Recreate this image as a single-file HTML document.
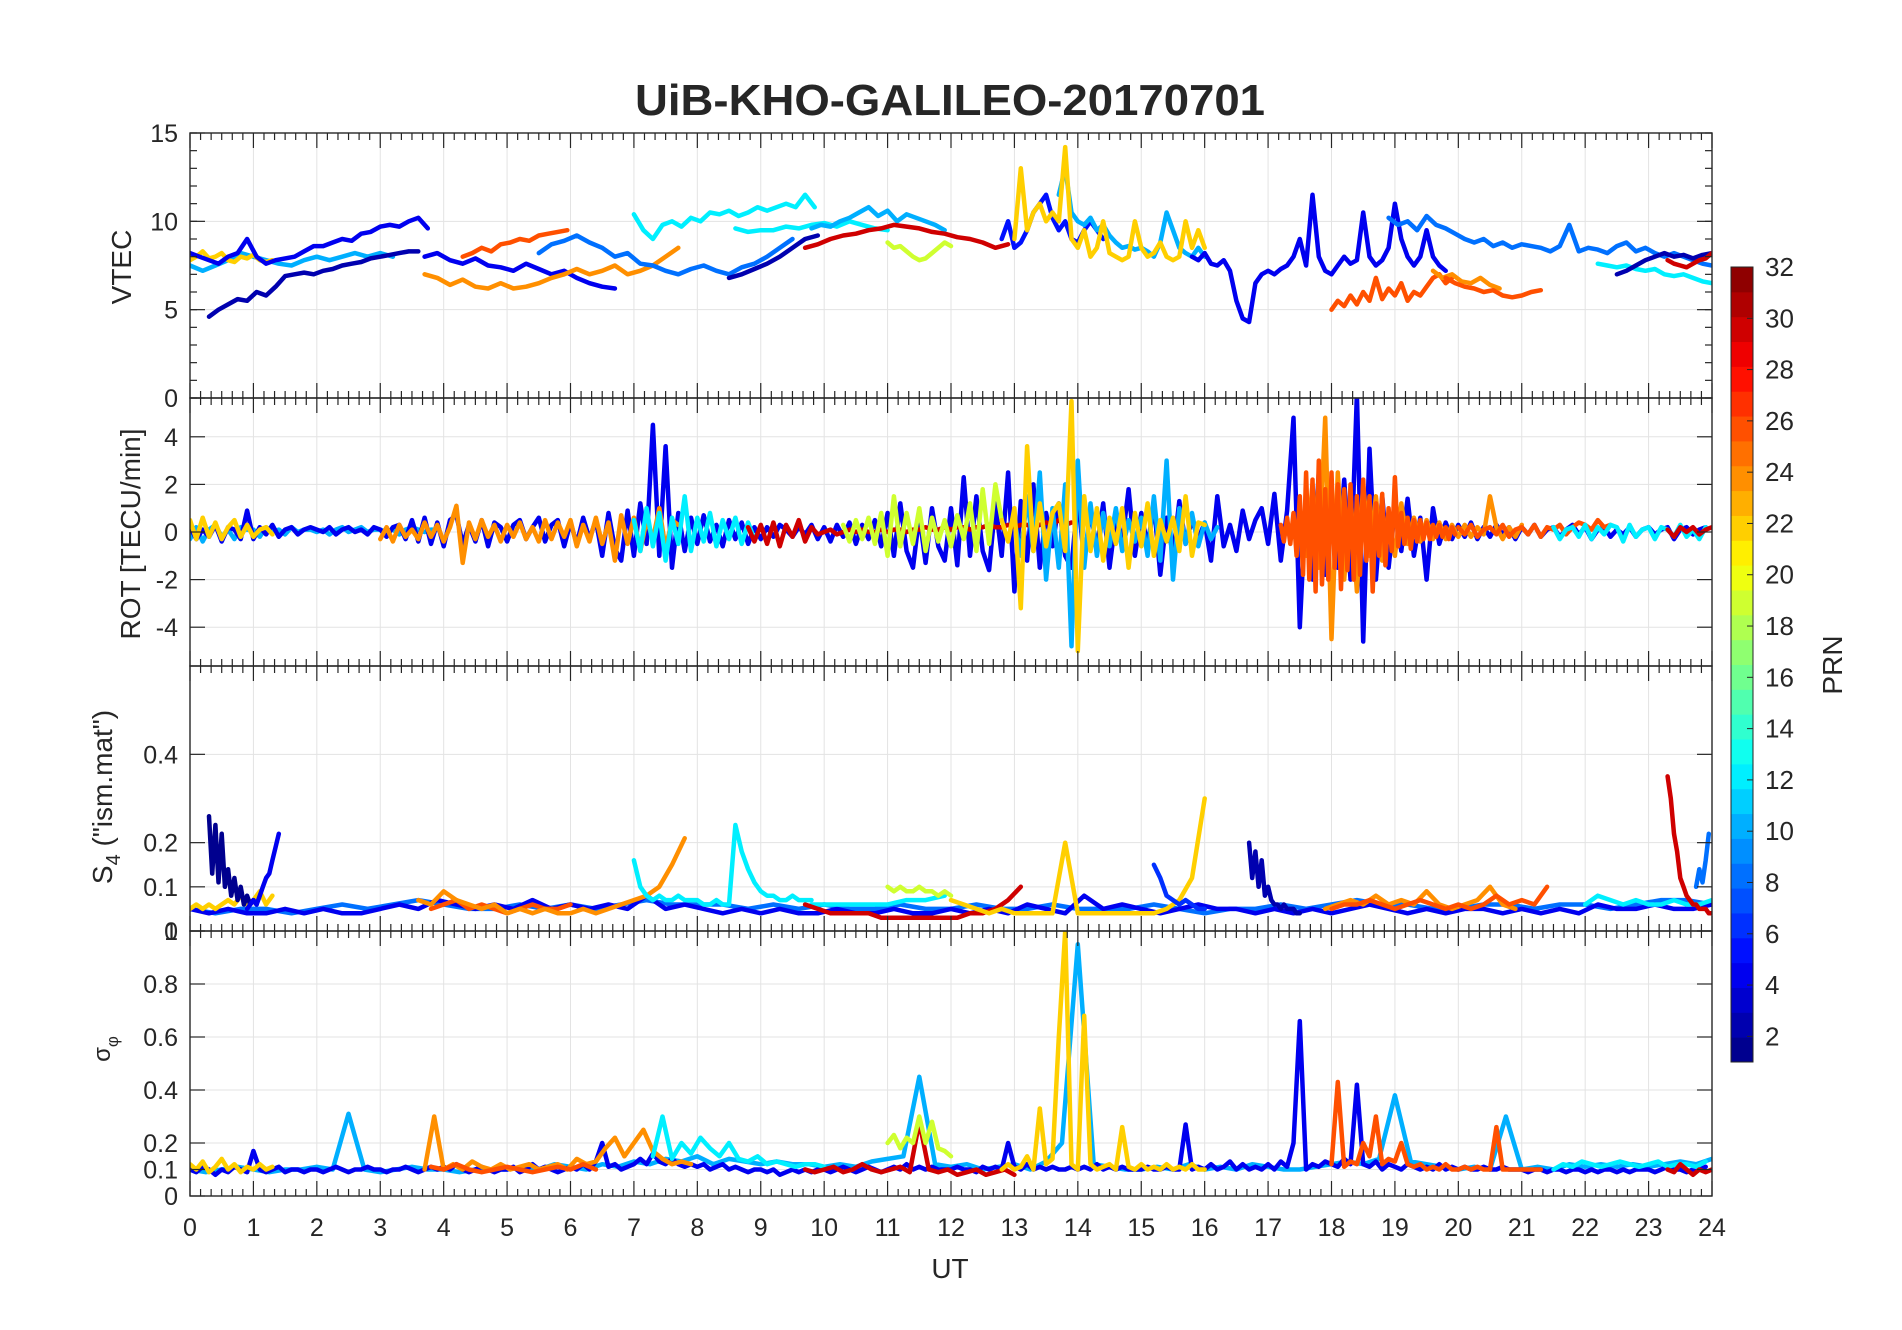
<!DOCTYPE html>
<html><head><meta charset="utf-8"><style>
html,body{margin:0;padding:0;background:#fff}
svg{display:block}
text{font-family:"Liberation Sans",Arial,sans-serif;fill:#262626}
</style></head><body>
<svg id="chart" width="1902" height="1330" viewBox="0 0 1902 1330" xmlns="http://www.w3.org/2000/svg">
<text x="950" y="115" text-anchor="middle" font-size="44" font-weight="bold" textLength="630" lengthAdjust="spacingAndGlyphs">UiB-KHO-GALILEO-20170701</text>
<g id="grids"></g><g id="series"></g><g id="axes"></g><g id="cbar"></g>
<text x="950" y="1278" text-anchor="middle" font-size="28">UT</text>
<text transform="translate(131,267) rotate(-90)" text-anchor="middle" font-size="28">VTEC</text>
<text transform="translate(140,534) rotate(-90)" text-anchor="middle" font-size="28">ROT [TECU/min]</text>
<text transform="translate(112,797) rotate(-90)" text-anchor="middle" font-size="28">S<tspan font-size="20" dy="8">4</tspan><tspan dy="-8"> ("ism.mat")</tspan></text>
<text transform="translate(110,1049) rotate(-90)" text-anchor="middle" font-size="24">σ<tspan font-size="17" dy="8">φ</tspan></text>
<text transform="translate(1842,665) rotate(-90)" text-anchor="middle" font-size="28">PRN</text>
</svg>
<script>
// ---------- data ----------
const hours = [0,1,2,3,4,5,6,7,8,9,10,11,12,13,14,15,16,17,18,19,20,21,22,23,24];
const vtecTicks = [0,5,10,15];
const rotTicks = [-4,-2,0,2,4];
const s4Ticks = [0,0.1,0.2,0.4];
const sigTicks = [0,0.1,0.2,0.4,0.6,0.8,1];
const prnTicks = [2,4,6,8,10,12,14,16,18,20,22,24,26,28,30,32];

// VTEC
const v_p2_a = [4.6,5.0,5.3,5.6,5.5,6.0,5.8,6.3,6.9,7.0,7.1,7.0,7.2,7.3,7.5,7.6,7.7,7.9,8.0,8.1,8.2,8.3,8.3];
const v_p2_b = [6.8,7.0,7.3,7.6,8.0,8.5,9.0,9.2];
const v_p2_c = [7.0,7.2,7.5,7.8,8.0,8.2,8.0,8.1,7.9,8.1,8.2];
const v_p4_a = [8.2,8.0,7.8,7.6,8.0,8.2,9.0,8.0,7.6,7.8,7.9,8.0,8.3,8.6,8.6,8.8,9.0,8.9,9.3,9.4,9.7,9.8,9.7,10.0,10.2,9.6];
const v_p4_b = [8.0,8.2,7.8,7.6,7.9,7.5,7.4,7.2,7.6,7.3,7.0,7.2,6.8,6.5,6.3,6.2];
const v_p4_c = [8.0,7.8,8.2,7.6,7.5,7.8,7.2,5.5,4.5,4.3,6.5,7.0,7.2,7.0,7.3,7.5,8.0,9.0,7.5,11.5,8.0,7.2,7.0,7.5,8.0,7.6,7.8,10.5,8.0,7.5,7.8,8.5,11.0,9.0,8.0,7.5,8.0,9.5,8.0,7.5,7.2];
const v_p5 = [9.0,10.0,8.5,8.8,9.5,10.5,11.0,11.5,10.2,9.5,10.0,9.0,8.8,9.5,10.0,9.5,9.0];
const v_p8_a = [8.2,8.7,8.9,9.2,8.8,8.5,8.0,8.2,7.6,7.5,7.2,7.0,7.3,7.5,7.2,7.0,7.4,7.6,8.0,8.5,9.0];
const v_p8_b = [10.2,9.8,10.0,9.5,10.3,9.8,9.6,9.3,9.0,8.8,9.0,8.6,8.8,8.5,8.7,8.6,8.5,8.3,8.6,9.8,8.3,8.5,8.4,8.2,8.6,8.8,8.3,8.5,8.2,8.0,8.2,8.0,7.8,7.6,7.5];
const v_p10_a = [7.5,7.2,7.5,7.8,8.2,8.0,7.8,7.6,7.5,7.8,8.0,7.8,8.0,8.2,8.0,8.2,8.0];
const v_p10_b = [9.6,9.8,9.7,10.0,10.2,10.5,10.8,10.3,10.6,10.0,10.4,10.2,10.0,9.8,9.5];
const v_p10_c = [11.5,13.0,10.5,10.0,9.8,10.2,9.5,9.8,9.2,8.8,8.5,8.6,8.4,8.5,8.3,8.0,8.8,10.5,9.5,8.5,8.2,8.0,8.5,8.0];
const v_p12_a = [10.4,9.5,9.0,9.8,10.0,9.7,10.2,10.0,10.5,10.4,10.6,10.3,10.5,10.8,10.6,10.8,11.0,10.8,11.5,10.8];
const v_p12_b = [9.6,9.4,9.5,9.5,9.7,9.6,9.8,9.9,9.7,10.0,9.8,9.6,9.5];
const v_p12_c = [7.6,7.5,7.4,7.5,7.3,7.2,7.3,7.0,6.9,7.0,6.8,6.6,6.5];
const v_p19 = [8.8,8.5,8.6,8.3,8.0,7.8,7.9,8.2,8.5,8.8,8.6];
const v_p22_a = [7.8,8.0,8.3,7.9,8.0,8.2,7.8,7.7,8.0,7.9,8.1,7.8,7.7,7.8];
const v_p22_b = [9.0,13.0,9.5,10.5,11.0,10.0,10.5,10.0,14.2,9.0,8.5,9.5,8.0,8.5,10.0,8.2,8.0,7.8,8.0,10.0,8.5,8.0,8.2,8.8,8.0,7.8,8.0,10.0,8.5,9.5,8.5];
const v_p24_a = [7.0,6.8,6.4,6.7,6.3,6.2,6.5,6.2,6.3,6.5,6.8,7.0,7.3,7.0,7.2,7.5,7.0,7.2,7.5,8.0,8.5];
const v_p24_b = [7.2,6.8,7.0,6.6,6.5,6.8,6.4,6.2];
const v_p26_a = [8.0,8.2,8.5,8.3,8.7,8.8,9.0,8.9,9.2,9.3,9.4,9.5];
const v_p26_b = [5.0,5.5,5.2,5.8,5.3,6.0,5.5,6.8,5.6,6.2,5.8,6.5,5.5,6.0,5.8,6.3,6.8,7.0,6.5,6.8];
const v_p26_c = [6.8,6.5,6.3,6.2,6.0,6.1,5.8,5.7,5.8,6.0,6.1];
const v_p30_a = [8.5,8.7,9.0,9.2,9.3,9.5,9.6,9.8,9.7,9.6,9.4,9.3,9.1,9.0,8.8,8.5,8.7];
const v_p30_b = [7.8,7.6,7.5,7.4,7.6,7.8,7.9,8.2];

// ROT
const r_p4 = [0.2,-0.3,0.1,-0.2,0.3,-0.4,0.2,0.1,-0.3,0.9, -0.3,0.2,-0.1,0.3,-0.2,0.1,0.2,-0.1,0.1,0.2, 0.1,0,0.2,-0.1,0.1,0.2,0,0.1,-0.1,0.2, 0.1,-0.2,0.2,0.3,-0.3,0.5,-0.4,0.6,-0.5,0.4, -0.6,0.5,0.7,-0.5,0.3,-0.4,0.5,-0.6,0.4,0.2, -0.4,0.3,0.5,-0.3,0.2,0.6,-0.4,0.3,0.5,-0.6, 0.4,-0.5,0.6,-0.3,0.5,-1.0,0.8,-0.7,-1.2,0.9, -1.0,1.2,-0.5,4.5,-1.0,3.6,-1.5,0.8,-0.8,0.6, -0.5,0.7,-0.4,0.3,-0.6,0.5,-0.3,0.4,-0.5,0.2, -0.3,0.2,-0.2,0.3,0.1,-0.2,0.2,-0.1,0.3,-0.3, 0.2,-0.4,0.3,-0.2,0.4,-0.5,0.3,-0.3,0.5,-0.6, 0.8,-1.0,1.2,-0.8,-1.5,0.7,-1.3,1.0,-0.6,-1.2, 1.0,-1.4,2.3,-1.0,1.5,-0.8,-1.6,1.2,-1.0,2.5, -2.5,1.3,-1.2,2.0,-1.5,0.8,-0.6,1.2,-1.0,-1.5, 1.5,-1.2,0.9,-0.7,1.2,-1.5,0.6,-0.4,1.8,-1.0, 0.8,-0.6,1.2,-1.8,0.6,-1.0,1.3,-0.5,0.5,-0.3, 0.4,-1.2,1.5,-0.6,0.3,-0.8,0.9,-0.3,0.5,1.0, -0.5,1.6,-1.2,0.9,4.8,-4.0,1.5,-2.0,2.5,-1.8, 1.0,-1.5,2.2,-2.0,5.8,-4.6,3.5,-2.0,1.5,-1.5, 1.0,-0.8,1.4,-1.0,0.6,-2.0,1.0,-0.5,0.4,-0.3, 0.3,-0.2,0.4,-0.3,0.2,-0.2,0.3,-0.1,0.2,-0.3, 0.2,-0.1,0.3,-0.2,0.1,0.2,-0.2,0.1,0.3,-0.1, 0.2,-0.3,0.1,0.2,-0.2,0.1,-0.1,0.2,-0.2,0.1, 0.2,-0.1,0.1,0.2,-0.3,0.1,0.2,-0.1,0.1,0.2];
const r_p10_a = [-0.3,0.2,-0.4,0.1,0.3,-0.2,0.1,-0.3,0.2,0.1, 0.1,-0.2,0.2,0,0.1,-0.1,0.2,0,0.1,0.1, 0,0.1,-0.1,0.1,0.2,0,0.1,0.2,0,0.1, 0.1,0,0.1,-0.1,0.1,0.2,0.1,0,0.1,0.1];
const r_p10_b = [0.5,-1.0,1.5,-0.8,2.5,-2.0,1.0,-1.5,2.0,-4.8, 3.0,-1.5,1.2,-1.0,0.8,-0.6,1.0,-0.8,0.5,-0.4, 0.6,-1.0,1.5,-1.2,3.0,-2.0,1.0,-0.5,0.8,-0.6, 0.4,-0.3,0.2];
const r_p12_a = [0.5,-0.8,1.0,-0.6,0.8,-1.2,0.6,-0.5,1.5,-0.8, 0.6,-0.4,0.8,-0.6,0.5,-0.3,0.6,-0.5,0.4,-0.3];
const r_p12_b = [0.2,-0.3,0.1,0.2,-0.2,0.3,-0.3,0.2,-0.1,0.3, 0.2,-0.4,0.3,-0.2,0.1,0.2,-0.3,0.2,0.1,-0.2, 0.3,-0.2,0.1,-0.3,0.2];
const r_p19 = [0.3,-0.4,0.5,-0.3,0.6,-0.5,0.8,-1.0,1.5,-0.6, 0.8,-0.5,1.0,-0.8,0.6,-0.4,0.5,-0.6,0.7,-0.3, 1.2,-0.8,1.8,-0.5,2.0,0.5];
const r_p22_a = [0.5,-0.3,0.6,-0.2,0.4,-0.3,0.2,0.5,-0.2,0.3,-0.2,0.1,0.2,-0.1];
const r_p22_b = [0.5,-0.4,1.0,-3.2,3.6,-0.8,1.2,-0.6,0.8,1.2,-0.8,5.5,-5.0,1.5,-0.8,1.0,-1.2,0.6,-0.5,1.0,-1.5,0.8,-0.6,1.2,-1.0,0.5,-0.4,0.6,-0.8,1.5,-1.0,0.4,0.3];
const r_p24_a = [-0.3,0.2,-0.4,0.3,-0.2,0.1,-0.3,0.4,-0.2,0.3, -0.4,0.2,1.1,-1.3,0.4,-0.3,0.5,-0.2,0.3,-0.4, 0.3,-0.2,0.4,-0.3,0.2,-0.4,0.5,-0.3,0.4,-0.2, 0.5,-0.6,0.3,-0.4,0.6,-0.5,0.4,-1.2,0.7,-0.5, 0.6,-0.8,0.5,-0.3,1.0,-0.7,0.5,0.3];
const r_p24_b = [0.5,-1.0,2.0,-1.5,4.8,-4.5,2.5,-2.0,1.5,-2.5, 2.0,-1.0,1.5,-1.2,0.8,-1.0,1.2,-0.5,0.6,-0.4, 0.5,-0.3,0.4,-0.3,0.3,-0.2,0.3,-0.2,0.2,-0.1, 1.5,0.2,-0.3,0.2,-0.2,0.3];
const r_p26_a = [0.3,-0.4,0.6,-0.5,0.8,-1.0,1.5,-1.8,2.5,-2.0, 2.2,-2.5,3.0,-2.2,1.8,-2.0,2.5,-1.5,2.0,-2.4, 1.8,-1.6,2.0,-2.0,1.5,-1.8,2.2,-1.2,1.5,-2.5, 1.2,-1.0,1.6,-1.4,1.0,-0.8,2.3,-0.6,0.8,-0.5, 0.6,-0.7,0.5,-0.4,0.5,-0.3,0.4,-0.3,0.3,-0.2, 0.3,-0.2,0.2,-0.3,0.2,-0.1];
const r_p26_b = [0.2,-0.1,0.3,-0.2,0.1,0.2,-0.1,0.3,-0.2,0.1, 0.2,-0.1,0.3,-0.2,0.2,0.1,0.3,-0.1,0.2,0.4, 0.3,0.1,0.5,0.2,0.3];
const r_p30_a = [0.2,-0.4,0.3,-0.5,0.4,-0.6,0.3,-0.2,0.5,-0.4, 0.2,-0.1,0,0.1,-0.1,0,0.1,0,0.1,0, 0,0.1,0,0.1,0.1,0,0.1,0.1,0.2,0.1, 0.1,0.2,0.1,0.2,0.2,0.1,0.2,0.2,0.3,0.2, 0.2,0.3,0.2,0.3,0.3,0.2,0.3,0.4,0.3,0.5, 0.3,0.4];
const r_p30_b = [0.1,-0.2,0.2,0,0.2,-0.1,0.1,0.2];

// S4
const s_p1 = [0.26,0.13,0.24,0.11,0.22,0.1,0.14,0.08,0.12,0.07,0.1,0.06,0.08,0.06,0.07,0.06];
const s_p4_a = [0.05,0.06,0.07,0.06,0.08,0.1,0.12,0.13,0.16,0.19,0.22];
const s_p4_b = [0.05,0.04,0.05,0.04,0.04,0.05,0.04,0.05,0.04,0.04, 0.05,0.06,0.05,0.07,0.06,0.05,0.06,0.05,0.07,0.05, 0.06,0.05,0.06,0.05,0.08,0.05,0.06,0.05,0.04,0.05, 0.04,0.05,0.04,0.04,0.05,0.04,0.04,0.05,0.04,0.04, 0.05,0.04,0.05,0.04,0.06,0.05,0.04,0.08,0.05,0.06, 0.05,0.04,0.05,0.06,0.05,0.05,0.04,0.05,0.04,0.05, 0.04,0.05,0.06,0.05,0.04,0.05,0.04,0.05,0.05,0.04, 0.05,0.04,0.05,0.04,0.06,0.05,0.05,0.06,0.05,0.05, 0.06];
const s_p8_a = [0.05,0.04,0.05,0.05,0.04,0.05,0.06,0.05,0.06,0.07, 0.06,0.05,0.05,0.06,0.05,0.06,0.05,0.06,0.07,0.06, 0.06,0.06,0.05,0.06,0.05,0.06,0.05,0.05,0.06,0.05, 0.05,0.06,0.05,0.05,0.06,0.05,0.05,0.05,0.06,0.05, 0.04,0.05,0.05,0.06,0.05,0.06,0.07,0.06,0.06,0.05, 0.05,0.06,0.06,0.05,0.06,0.06,0.05,0.06,0.07,0.07, 0.06];
const s_p8_b = [0.1,0.14,0.11,0.16,0.22];
const s_p6 = [0.15,0.12,0.08,0.07,0.06,0.07,0.06,0.05,0.05];
const s_p2 = [0.2,0.12,0.18,0.1,0.16,0.08,0.1,0.07,0.06,0.06,0.05,0.06,0.05,0.05,0.05,0.04,0.04];
const s_p24_a = [0.07,0.06,0.09,0.07,0.06,0.05,0.06,0.04,0.05,0.04,0.05,0.04,0.04,0.05,0.04,0.05,0.06,0.07,0.08,0.1,0.15,0.21];
const s_p24_b = [0.05,0.06,0.07,0.06,0.08,0.06,0.07,0.06,0.09,0.06,0.05,0.06,0.07,0.1,0.06,0.05];
const s_p26_a = [0.05,0.06,0.07,0.05,0.06,0.05,0.04,0.05,0.06,0.05,0.05,0.06];
const s_p26_b = [0.05,0.06,0.06,0.07,0.06,0.05,0.06,0.07,0.06,0.05,0.06,0.05,0.06,0.08,0.06,0.07,0.06,0.1];
const s_p12_a = [0.16,0.1,0.08,0.07,0.08,0.07,0.07,0.08,0.07,0.07, 0.07,0.06,0.06,0.07,0.06,0.06,0.24,0.18,0.14,0.11, 0.09,0.08,0.08,0.07,0.07,0.08,0.07,0.07,0.07];
const s_p12_b = [0.06,0.06,0.06,0.06,0.06,0.07,0.07,0.08];
const s_p12_c = [0.06,0.08,0.07,0.06,0.07,0.06,0.06,0.07,0.06,0.06,0.07];
const s_p19 = [0.1,0.09,0.1,0.09,0.09,0.1,0.09,0.09,0.08,0.09,0.08];
const s_p22_a = [0.05,0.06,0.05,0.06,0.05,0.06,0.07,0.06,0.08,0.06,0.07,0.09,0.06,0.08];
const s_p22_b = [0.07,0.06,0.05,0.04,0.05,0.04,0.04,0.04,0.04,0.2,0.04,0.04,0.04,0.04,0.04,0.04,0.04,0.05,0.07,0.12,0.3];
const s_p30_a = [0.06,0.05,0.04,0.04,0.04,0.04,0.03,0.03,0.03,0.03,0.03,0.03,0.03,0.04,0.04,0.05,0.07,0.1];
const s_p30_b = [0.35,0.3,0.22,0.18,0.12,0.1,0.08,0.07,0.06,0.06,0.05,0.05,0.05,0.04,0.04];

// sigma phi
const q_p4 = [0.1,0.09,0.11,0.1,0.08,0.1,0.09,0.11,0.1,0.09, 0.17,0.1,0.09,0.1,0.11,0.09,0.1,0.1,0.09,0.1, 0.1,0.09,0.1,0.11,0.1,0.09,0.1,0.1,0.11,0.1, 0.1,0.09,0.1,0.1,0.11,0.1,0.09,0.1,0.11,0.1, 0.11,0.1,0.12,0.1,0.09,0.1,0.11,0.1,0.09,0.1, 0.1,0.11,0.09,0.1,0.12,0.1,0.11,0.1,0.09,0.1, 0.11,0.1,0.12,0.1,0.13,0.2,0.11,0.12,0.1,0.11, 0.12,0.14,0.12,0.16,0.13,0.12,0.14,0.12,0.11,0.12, 0.11,0.12,0.1,0.11,0.12,0.1,0.11,0.1,0.09,0.1, 0.1,0.09,0.1,0.08,0.09,0.1,0.09,0.1,0.09,0.1, 0.1,0.09,0.1,0.11,0.1,0.09,0.1,0.11,0.1,0.09, 0.1,0.11,0.1,0.12,0.1,0.11,0.1,0.11,0.1,0.1, 0.1,0.11,0.1,0.1,0.09,0.11,0.1,0.11,0.1,0.2, 0.11,0.1,0.12,0.1,0.11,0.1,0.11,0.1,0.1,0.11, 0.1,0.11,0.1,0.12,0.1,0.11,0.1,0.11,0.1,0.1, 0.1,0.11,0.1,0.1,0.11,0.1,0.1,0.27,0.1,0.11, 0.1,0.12,0.1,0.11,0.13,0.1,0.12,0.1,0.11,0.1, 0.12,0.1,0.13,0.11,0.2,0.66,0.1,0.12,0.11,0.13, 0.12,0.11,0.14,0.12,0.42,0.12,0.11,0.13,0.1,0.12, 0.11,0.1,0.12,0.11,0.1,0.11,0.1,0.12,0.1,0.11, 0.1,0.11,0.1,0.1,0.11,0.1,0.1,0.11,0.1,0.1, 0.1,0.09,0.1,0.1,0.09,0.1,0.1,0.09,0.1,0.1, 0.09,0.1,0.09,0.1,0.1,0.09,0.1,0.09,0.1,0.1, 0.1,0.09,0.1,0.11,0.1,0.1,0.09,0.1,0.1,0.11];
const q_p10 = [0.1,0.09,0.1,0.11,0.1,0.09,0.1,0.1,0.11,0.1, 0.31,0.1,0.09,0.1,0.11,0.1,0.1,0.09,0.1,0.1, 0.1,0.11,0.1,0.12,0.11,0.1,0.12,0.11,0.13,0.12, 0.14,0.13,0.15,0.12,0.14,0.13,0.12,0.13,0.12,0.12, 0.11,0.12,0.11,0.13,0.14,0.15,0.45,0.12,0.11,0.12, 0.1,0.11,0.12,0.1,0.13,0.2,0.95,0.12,0.11,0.1, 0.1,0.11,0.1,0.12,0.1,0.11,0.1,0.12,0.11,0.1, 0.1,0.11,0.12,0.13,0.12,0.14,0.38,0.13,0.12,0.11, 0.1,0.11,0.1,0.3,0.1,0.11,0.1,0.12,0.11,0.12, 0.11,0.12,0.11,0.12,0.13,0.12,0.14];
const q_p12_a = [0.15,0.3,0.14,0.2,0.16,0.22,0.18,0.15,0.2,0.14,0.13,0.15,0.12,0.13,0.12,0.11,0.12,0.12,0.11];
const q_p12_b = [0.1,0.12,0.11,0.13,0.12,0.11,0.12,0.13,0.12,0.11,0.12,0.13,0.11,0.12,0.12,0.11,0.13];
const q_p19 = [0.2,0.23,0.18,0.22,0.2,0.3,0.2,0.28,0.18,0.17,0.15];
const q_p22_a = [0.12,0.1,0.13,0.09,0.11,0.14,0.1,0.12,0.09,0.11,0.1,0.12,0.1,0.11];
const q_p22_b = [0.1,0.12,0.1,0.11,0.15,0.1,0.33,0.12,0.14,0.6,1.0,0.12,0.1,0.68,0.12,0.1,0.11,0.12,0.1,0.26,0.11,0.1,0.12,0.1,0.11,0.1,0.12,0.1,0.11,0.1,0.12,0.1,0.1];
const q_p24 = [0.1,0.3,0.1,0.12,0.1,0.13,0.11,0.1,0.12,0.1,0.11,0.12,0.1,0.11,0.12,0.1,0.14,0.12,0.13,0.18,0.22,0.15,0.2,0.25,0.17,0.14,0.12,0.13,0.12];
const q_p26_a = [0.11,0.1,0.12,0.1,0.09,0.1,0.11,0.1,0.09,0.1,0.11,0.1,0.12,0.1];
const q_p26_b = [0.12,0.43,0.11,0.13,0.12,0.2,0.15,0.3,0.12,0.14, 0.13,0.2,0.12,0.11,0.12,0.1,0.11,0.1,0.12,0.1, 0.1,0.11,0.1,0.11,0.1,0.1,0.26,0.1,0.1,0.1, 0.1,0.1,0.1,0.1];
const q_p30_a = [0.1,0.09,0.1,0.11,0.09,0.1,0.12,0.1,0.09,0.1,0.11,0.09,0.28,0.1,0.09,0.1,0.08,0.09,0.1,0.08,0.09,0.1,0.08];
const q_p30_b = [0.1,0.09,0.12,0.1,0.08,0.1,0.09,0.1];

// series registry: [values, panel, prn, startHour, stepHours]
const seriesList = [
 [v_p10_a,0,10,0,0.2],[v_p22_a,0,22,0,0.1],[v_p4_a,0,4,0,0.15],[v_p2_a,0,2,0.3,0.15],[v_p4_b,0,4,3.7,0.2],
 [v_p24_a,0,24,3.7,0.2],[v_p26_a,0,26,4.3,0.15],[v_p8_a,0,8,5.5,0.2],[v_p12_a,0,12,7.0,0.15],[v_p12_b,0,12,8.6,0.2],
 [v_p2_b,0,2,8.5,0.2],[v_p10_b,0,10,9.8,0.15],[v_p30_a,0,30,9.7,0.2],[v_p19,0,19,11,0.1],[v_p5,0,5,12.8,0.1],
 [v_p10_c,0,10,13.7,0.1],[v_p22_b,0,22,13.0,0.1],[v_p4_c,0,4,15.8,0.1],[v_p26_b,0,26,18.0,0.1],[v_p8_b,0,8,18.9,0.15],
 [v_p24_b,0,24,19.6,0.15],[v_p26_c,0,26,19.8,0.15],[v_p12_c,0,12,22.2,0.15],[v_p2_c,0,2,22.5,0.15],[v_p30_b,0,30,23.3,0.1],
 [r_p10_a,1,10,0,0.1],[r_p4,1,4,0,0.1],[r_p22_a,1,22,0,0.1],[r_p24_a,1,24,3.0,0.1],[r_p12_a,1,12,7.0,0.1],
 [r_p30_a,1,30,8.8,0.1],[r_p19,1,19,10.3,0.1],[r_p10_b,1,10,13.0,0.1],[r_p22_b,1,22,12.8,0.1],[r_p24_b,1,24,17.5,0.1],
 [r_p26_a,1,26,17.2,0.05],[r_p26_b,1,26,20.0,0.1],[r_p12_b,1,12,21.5,0.1],[r_p30_b,1,30,23.3,0.1],
 [s_p8_a,2,8,0,0.4],[s_p4_b,2,4,0,0.3],[s_p22_a,2,22,0,0.1],[s_p1,2,1,0.3,0.05],[s_p4_a,2,4,0.9,0.05],
 [s_p26_a,2,26,3.8,0.2],[s_p24_a,2,24,3.6,0.2],[s_p12_a,2,12,7.0,0.1],[s_p12_b,2,12,9.8,0.3],[s_p30_a,2,30,9.7,0.2],
 [s_p19,2,19,11.0,0.1],[s_p22_b,2,22,12.0,0.2],[s_p6,2,6,15.2,0.1],[s_p2,2,2,16.7,0.05],[s_p24_b,2,24,17.9,0.2],
 [s_p26_b,2,26,18.0,0.2],[s_p12_c,2,12,22.0,0.2],[s_p30_b,2,30,23.3,0.05],[s_p8_b,2,8,23.75,0.05],
 [q_p10,3,10,0,0.25],[q_p4,3,4,0,0.1],[q_p22_a,3,22,0,0.1],[q_p24,3,24,3.7,0.15],[q_p26_a,3,26,3.8,0.2],
 [q_p12_a,3,12,7.3,0.15],[q_p30_a,3,30,9.7,0.15],[q_p19,3,19,11.0,0.1],[q_p22_b,3,22,12.8,0.1],[q_p26_b,3,26,18.0,0.1],
 [q_p12_b,3,12,21.5,0.15],[q_p30_b,3,30,23.3,0.1]
];

// ---------- layout ----------
const NS = "http://www.w3.org/2000/svg";
const X0 = 190, X1 = 1712;
const panels = [
 {top:133, bot:398, min:0, max:15, ticks:vtecTicks, minor:1, name:'vtec'},
 {top:398, bot:666, min:-5.63, max:5.63, ticks:rotTicks, minor:0, name:'rot'},
 {top:666, bot:931, min:0, max:0.6, ticks:s4Ticks, minor:0, name:'s4'},
 {top:931, bot:1196, min:0, max:1, ticks:sigTicks, minor:0, name:'sigma-phi'}
];
function xScale(t){ return X0 + (t/24)*(X1-X0); }
function yScale(p, v){ const P = panels[p]; return P.bot - (v-P.min)/(P.max-P.min)*(P.bot-P.top); }
function jet(i){
  const x = (i-0.5)/32;
  const c = v => Math.round(255*Math.max(0, Math.min(1, v)));
  return `rgb(${c(1.5-Math.abs(4*x-3))},${c(1.5-Math.abs(4*x-2))},${c(1.5-Math.abs(4*x-1))})`;
}
function mk(tag, attrs, parent){ const e = document.createElementNS(NS, tag); for (const k in attrs) e.setAttribute(k, attrs[k]); parent.appendChild(e); return e; }

const grids = document.getElementById('grids');
const axes = document.getElementById('axes');
const sg = document.getElementById('series');
const defs = mk('defs', {}, document.getElementById('chart'));

panels.forEach((P, pi) => {
  const cp = mk('clipPath', {id:'clip'+pi}, defs);
  mk('rect', {x:X0, y:P.top, width:X1-X0, height:P.bot-P.top}, cp);
  hours.forEach(h => {
    if (h === 0 || h === 24) return;
    const g = mk('line', {x1:xScale(h), x2:xScale(h), y1:P.top, y2:P.bot, stroke:'#e3e3e3', 'stroke-width':1}, grids);
    
    
  });
  P.ticks.forEach(v => {
    const y = yScale(pi, v);
    if (v > P.min && v < P.max) {
      const g = mk('line', {x1:X0, x2:X1, y1:y, y2:y, stroke:'#e3e3e3', 'stroke-width':1}, grids);
      
      
    }
    mk('line', {x1:X0, x2:X0+15, y1:y, y2:y, stroke:'#262626', 'stroke-width':1.2}, axes);
    mk('line', {x1:X1-15, x2:X1, y1:y, y2:y, stroke:'#262626', 'stroke-width':1.2}, axes);
    const lbl = mk('text', {x:178, y:y+9, 'text-anchor':'end', 'font-size':25}, axes);
    
    
    lbl.textContent = String(v);
  });
  if (P.minor) {
    for (let v = P.min; v <= P.max; v += P.minor) {
      const y = yScale(pi, v);
      mk('line', {x1:X0, x2:X0+7, y1:y, y2:y, stroke:'#262626', 'stroke-width':1.2}, axes);
      mk('line', {x1:X1-7, x2:X1, y1:y, y2:y, stroke:'#262626', 'stroke-width':1.2}, axes);
    }
  }
  for (let k = 0; k <= 144; k++) {
    const x = xScale(k/6);
    const L = (k % 6 === 0) ? 15 : 7;
    mk('line', {x1:x, x2:x, y1:P.bot, y2:P.bot-L, stroke:'#262626', 'stroke-width':1.2}, axes);
    mk('line', {x1:x, x2:x, y1:P.top, y2:P.top+L, stroke:'#262626', 'stroke-width':1.2}, axes);
  }
  const box = mk('rect', {x:X0, y:P.top, width:X1-X0, height:P.bot-P.top, fill:'none', stroke:'#262626', 'stroke-width':1.4}, axes);
  
  
});

hours.forEach(h => {
  const t = mk('text', {x:xScale(h), y:1236, 'text-anchor':'middle', 'font-size':25}, axes);
  
  
  t.textContent = String(h);
});

seriesList.forEach(s => {
  const [vals, pi, prn, t0, dt] = s;
  const pts = vals.map((v, i) => xScale(t0 + i*dt).toFixed(1) + ',' + yScale(pi, v).toFixed(1)).join(' ');
  const pl = mk('polyline', {points:pts, fill:'none', stroke:jet(prn), 'stroke-width':4.5, 'stroke-linejoin':'round', 'stroke-linecap':'round', 'clip-path':'url(#clip'+pi+')'}, sg);
  
  
});

// colorbar
const cb = document.getElementById('cbar');
const CB = {x:1731, w:22, top:267, bot:1062};
for (let i = 1; i <= 32; i++) {
  const h = (CB.bot-CB.top)/32;
  const r = mk('rect', {x:CB.x, y:CB.bot - i*h, width:CB.w, height:h+0.5, fill:jet(i)}, cb);
  
  
}
mk('rect', {x:CB.x, y:CB.top, width:CB.w, height:CB.bot-CB.top, fill:'none', stroke:'#262626', 'stroke-width':1}, cb);
prnTicks.forEach(v => {
  const y = CB.bot - (v-1)/31*(CB.bot-CB.top);
  mk('line', {x1:CB.x+CB.w-6, x2:CB.x+CB.w, y1:y, y2:y, stroke:'#262626', 'stroke-width':1}, cb);
  const t = mk('text', {x:1765, y:y+9, 'font-size':26}, cb);
  
  
  t.textContent = String(v);
});
</script>
</body></html>
